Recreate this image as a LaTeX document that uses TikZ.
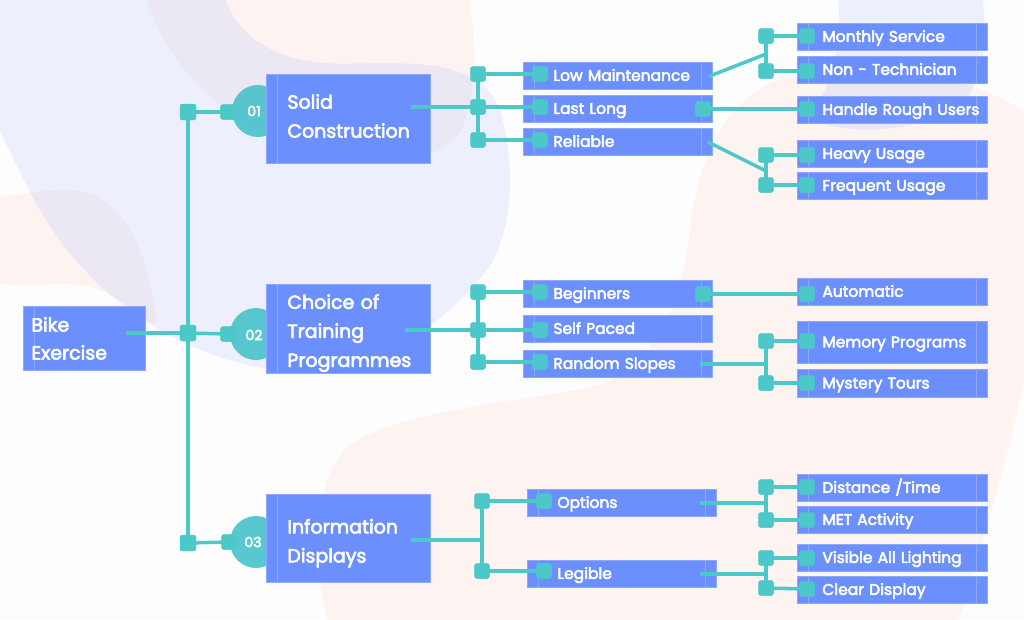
\documentclass[tikz,border=0pt]{standalone}
\usepackage{fontspec}
\setmainfont{Poppins}
\usetikzlibrary{calc}
\newcommand\heavier[1]{\special{pdf:literal direct 2 Tr #1 w}}
\definecolor{bgc}{HTML}{FDFDFE}
\definecolor{lav}{HTML}{EDF0FC}
\definecolor{peach}{HTML}{FDF3F0}
\definecolor{mauve}{HTML}{ECE8F3}
\definecolor{boxblue}{HTML}{6C8FFE}
\definecolor{boxedge}{HTML}{8EA8FF}
\definecolor{tealc}{HTML}{4CC8C8}
\definecolor{circc}{HTML}{4CC3CB}
\tikzset{
 pLavA/.style={insert path={(-10,-10) -- (222,-10) .. controls (235,35) and (270,62) .. (340,64) .. controls (420,62) and (480,60) .. (500,110) .. controls (515,160) and (515,230) .. (487,270) .. controls (440,330) and (370,372) .. (300,372) .. controls (200,368) and (110,310) .. (60,240) .. controls (30,200) and (10,150) .. (-10,110) -- cycle}},
 pLavB/.style={insert path={(838,-10) .. controls (842,40) and (835,85) .. (808,118) .. controls (850,138) and (930,132) .. (965,100) .. controls (990,70) and (985,20) .. (982,-10) -- cycle}},
 pPeA/.style={insert path={(145,-10) .. controls (160,60) and (220,120) .. (300,150) .. controls (360,170) and (430,168) .. (458,135) .. controls (480,100) and (475,30) .. (468,-10) -- cycle}},
 pPeB/.style={insert path={(-10,196) .. controls (30,196) and (50,186) .. (85,192) .. controls (125,200) and (150,260) .. (156,318) .. controls (158,338) and (130,300) .. (95,288) .. controls (55,278) and (25,292) .. (-10,280) -- cycle}},
 pPeC/.style={insert path={(330,630) .. controls (312,560) and (310,480) .. (350,445) .. controls (400,410) and (520,402) .. (600,385) .. controls (660,360) and (682,300) .. (690,230) .. controls (700,140) and (740,80) .. (810,72) .. controls (900,66) and (990,80) .. (1034,120) -- (1034,340) .. controls (1015,420) and (990,530) .. (955,630) -- cycle}},
 leftline/.style={path picture={\draw[boxedge,line width=0.8pt] ([xshift=11pt]path picture bounding box.north west) -- ([xshift=11pt]path picture bounding box.south west);}},
 bothlines/.style={path picture={\draw[boxedge,line width=0.8pt] ([xshift=11pt]path picture bounding box.north west) -- ([xshift=11pt]path picture bounding box.south west) ([xshift=-11pt]path picture bounding box.north east) -- ([xshift=-11pt]path picture bounding box.south east);}},
 tbox/.style={draw=boxedge, line width=0.8pt, fill=boxblue, text=white, anchor=north west, inner ysep=0pt, align=left},
 topic/.style={tbox, leftline, font=\fontsize{19}{29}\selectfont\heavier{0.6}, minimum height=89pt, inner xsep=21pt, text width=122pt},
 rootbox/.style={tbox, leftline, font=\fontsize{19}{28}\selectfont\heavier{0.6}, minimum height=64pt, inner xsep=8pt, text width=106pt},
 sub/.style={tbox, bothlines, font=\fontsize{15.5}{18}\selectfont\heavier{0.5}, minimum height=27pt, inner xsep=30pt, text width=129pt, text height=11.5pt, text depth=1.5pt},
 leaf/.style={sub, inner xsep=25pt, text width=140pt},
 sq/.style={fill=tealc, rounded corners=2.5pt, minimum size=15pt, inner sep=0pt, draw=none},
 bigsq/.style={sq, minimum size=16pt},
 circ/.style={circle, fill=circc, fill opacity=0.92, minimum size=52pt, inner sep=0pt, draw=none},
 num/.style={text=white, font=\fontsize{14}{14}\selectfont\heavier{0.5}, inner sep=0pt},
 conn/.style={draw=tealc, line width=3.5pt},
 trunk/.style={draw=tealc, line width=4.5pt}
}
\begin{document}
\begin{tikzpicture}[x=1pt,y=-1pt]
\useasboundingbox (0,0) rectangle (1024,619);
\fill[bgc] (0,0) rectangle (1024,619);
% background blobs
\fill[peach,pPeA];
\fill[peach,pPeB];
\fill[peach,pPeC];
\fill[lav,pLavA];
\fill[lav,pLavB];
\begin{scope}
 \clip[pLavA];
 \fill[mauve,pPeA];
 \fill[mauve,pPeB];
\end{scope}
\begin{scope}
 \clip[pLavB];
 \fill[mauve,pPeC];
\end{scope}

% trunk nodes
\node[bigsq] (T1) at (188,112) {};
\node[bigsq] (T2) at (188,333) {};
\node[bigsq] (T3) at (188,543) {};
\draw[trunk] (T1.center) -- (T3.center);

% circles
\node[circ] (c1) at (258,111) {};
\node[circ] (c2) at (256,334) {};
\node[circ] (c3) at (256,542) {};

% main boxes
\node[rootbox] (bike) at (23,306) {Bike\\Exercise};
\node[topic] (solid) at (266,74) {Solid\\Construction\rule[-6pt]{0pt}{6pt}};
\node[topic] (choice) at (266,284) {\rule{0pt}{23pt}Choice of\\Training\\Programmes};
\node[topic, minimum height=88pt] (info) at (266,494) {\rule{0pt}{24pt}Information\\Displays};

% numbers
\node[num] (n1) at (254,111) {01};
\node[num] (n2) at (254,335) {02};
\node[num] (n3) at (253,542) {03};

% level 2 boxes
\node[sub] (low) at (523,62) {\mbox{Low Maintenance}};
\node[sub] (last) at (523,95) {\mbox{Last Long}};
\node[sub] (rel) at (523,128) {\mbox{Reliable}};
\node[sub] (beg) at (523,280) {\mbox{Beginners}};
\node[sub] (self) at (523,315) {\mbox{Self Paced}};
\node[sub] (rand) at (523,350) {\mbox{Random Slopes}};
\node[sub] (opt) at (527,489) {\mbox{Options}};
\node[sub] (leg) at (527,560) {\mbox{Legible}};

% level 3 boxes
\node[leaf] (month) at (797,23) {\mbox{Monthly Service}};
\node[leaf] (nontech) at (797,56) {\mbox{Non - Technician}};
\node[leaf] (hand) at (797,96) {\mbox{Handle Rough Users}};
\node[leaf] (heavy) at (797,140) {\mbox{Heavy Usage}};
\node[leaf] (freq) at (797,172) {\mbox{Frequent Usage}};
\node[leaf] (auto) at (797,278) {\mbox{Automatic}};
\node[leaf, minimum height=42pt] (mem) at (797,321) {\mbox{Memory Programs}};
\node[leaf, minimum height=28pt] (mys) at (797,369) {\mbox{Mystery Tours}};
\node[leaf] (dist) at (797,474) {\mbox{Distance /Time}};
\node[leaf] (met) at (797,506) {\mbox{MET Activity}};
\node[leaf] (vis) at (797,544) {\mbox{Visible All Lighting}};
\node[leaf] (clear) at (797,576) {\mbox{Clear Display}};

% small squares near circles
\node[sq] (c1s) at (228,112) {};
\node[sq] (c2s) at (228,334) {};
\node[sq] (c3s) at (229,542) {};

% junction squares and coordinates
\node[sq] (J1a) at (478,74) {};
\node[sq] (J1b) at (478,107) {};
\node[sq] (J1c) at (478,140) {};
\node[sq] (J2a) at (478,292) {};
\node[sq] (J2b) at (478,330) {};
\node[sq] (J2c) at (478,362) {};
\node[sq] (J3a) at (482,501) {};
\node[sq] (J3b) at (482,571) {};
\coordinate (m0) at (482,540);

\node[sq] (slow) at (540,74) {};
\node[sq] (slast) at (540,107) {};
\node[sq] (srel) at (540,140) {};
\node[sq] (sbeg) at (540,292) {};
\node[sq] (sself) at (540,330) {};
\node[sq] (srand) at (540,362) {};
\node[sq] (sopt) at (544,501) {};
\node[sq] (sleg) at (544,571) {};

\node[sq] (lastR) at (703,109) {};
\node[sq] (begR) at (703,294) {};

\coordinate (m1) at (766,54);
\coordinate (m2) at (766,171);
\coordinate (m3) at (766,364);
\coordinate (m5) at (766,503);
\coordinate (m6) at (766,574);
\node[sq] (J1d) at (766,36) {};
\node[sq] (J1e) at (766,71) {};
\node[sq] (J1f) at (766,155) {};
\node[sq] (J1g) at (766,185) {};
\node[sq] (J2d) at (766,341) {};
\node[sq] (J2e) at (766,383) {};
\node[sq] (J3c) at (766,487) {};
\node[sq] (J3d) at (766,520) {};
\node[sq] (J3e) at (766,558) {};
\node[sq] (J3f) at (766,588) {};

\node[sq] (qmonth) at (807,36) {};
\node[sq] (qnon) at (807,71) {};
\node[sq] (qhand) at (807,109) {};
\node[sq] (qheavy) at (807,155) {};
\node[sq] (qfreq) at (807,185) {};
\node[sq] (qauto) at (807,294) {};
\node[sq] (qmem) at (807,341) {};
\node[sq] (qmys) at (807,383) {};
\node[sq] (qdist) at (807,487) {};
\node[sq] (qmet) at (807,520) {};
\node[sq] (qvis) at (807,558) {};
\node[sq] (qclear) at (807,589) {};

% connectors
\draw[trunk] ($(T2 -| bike.east)+(-20,0)$) -- (T2.center);
\draw[conn] (T1.center) -- (c1s.center);
\draw[conn] (T2.center) -- (c2s.center);
\draw[conn] (T3.center) -- (c3s.center);

\draw[conn] ($(J1b -| solid.east)+(-20,0)$) -- (J1b.center);
\draw[conn] (J1a.center) -- (J1c.center);
\draw[conn] (J1a.center) -- (slow.center);
\draw[conn] (J1b.center) -- (slast.center);
\draw[conn] (J1c.center) -- (srel.center);

\draw[conn] ($(J2b -| choice.east)+(-26,0)$) -- (J2b.center);
\draw[conn] (J2a.center) -- (J2c.center);
\draw[conn] (J2a.center) -- (sbeg.center);
\draw[conn] (J2b.center) -- (sself.center);
\draw[conn] (J2c.center) -- (srand.center);

\draw[conn] ($(m0 -| info.east)+(-20,0)$) -- (m0);
\draw[conn] (J3a.center) -- (J3b.center);
\draw[conn] (J3a.center) -- (sopt.center);
\draw[conn] (J3b.center) -- (sleg.center);

\draw[conn] ($(low.east)+(-4,0.5)$) -- (m1);
\draw[conn] (J1d.center) -- (J1e.center);
\draw[conn] (J1d.center) -- (qmonth.center);
\draw[conn] (J1e.center) -- (qnon.center);
\draw[conn] (lastR.center) -- (qhand.center);
\draw[conn] ($(rel.east)+(-5,0)$) -- (m2);
\draw[conn] (J1f.center) -- (J1g.center);
\draw[conn] (J1f.center) -- (qheavy.center);
\draw[conn] (J1g.center) -- (qfreq.center);

\draw[conn] (begR.center) -- (qauto.center);
\draw[conn] ($(m3 -| rand.east)+(-13,0)$) -- (m3);
\draw[conn] (J2d.center) -- (J2e.center);
\draw[conn] (J2d.center) -- (qmem.center);
\draw[conn] (J2e.center) -- (qmys.center);

\draw[conn] ($(m5 -| opt.east)+(-17,0)$) -- (m5);
\draw[conn] (J3c.center) -- (J3d.center);
\draw[conn] (J3c.center) -- (qdist.center);
\draw[conn] (J3d.center) -- (qmet.center);
\draw[conn] ($(m6 -| leg.east)+(-17,0)$) -- (m6);
\draw[conn] (J3e.center) -- (J3f.center);
\draw[conn] (J3e.center) -- (qvis.center);
\draw[conn] (J3f.center) -- (qclear.center);

% squares on top of the connectors
\foreach \n in {T1,T2,T3,c1s,c2s,c3s,J1a,J1b,J1c,J2a,J2b,J2c,J3a,J3b,slow,slast,srel,sbeg,sself,srand,sopt,sleg,lastR,begR,J1d,J1e,J1f,J1g,J2d,J2e,J3c,J3d,J3e,J3f,qmonth,qnon,qhand,qheavy,qfreq,qauto,qmem,qmys,qdist,qmet,qvis,qclear}{\fill[tealc, rounded corners=2.5pt] (\n.north west) rectangle (\n.south east);}
\end{tikzpicture}
\end{document}
